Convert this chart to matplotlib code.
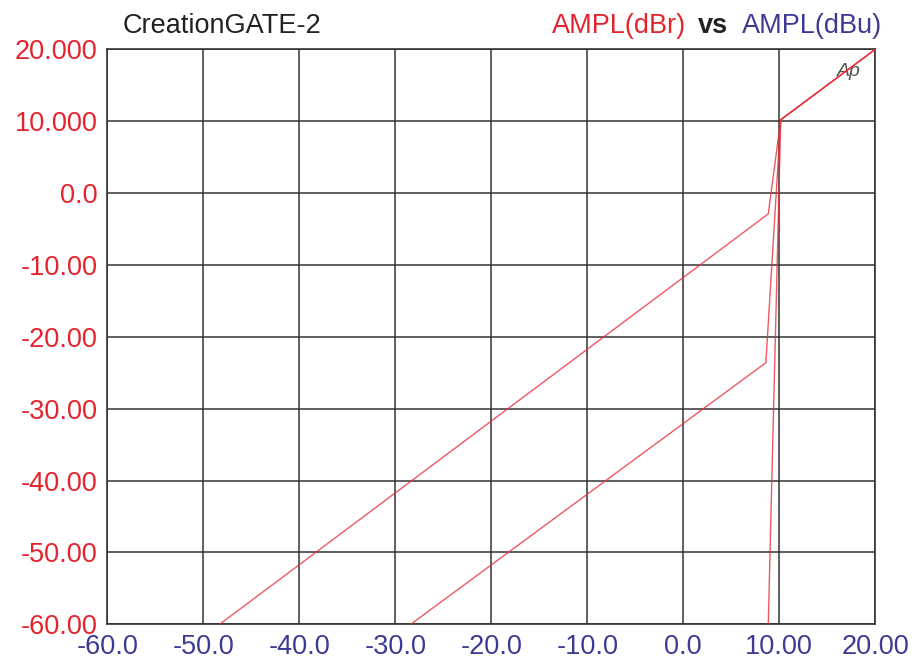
import matplotlib
matplotlib.use("Agg")
import matplotlib.pyplot as plt

plt.rcParams['font.family'] = ['Liberation Sans', 'DejaVu Sans']

# Data (dBu in -> dBr out)
xA = [-48.3, 8.85, 10.15, 20.0]
yA = [-60.0, -2.9, 10.2, 20.0]
xB = [-28.4, 8.6, 10.15, 20.0]
yB = [-60.0, -23.6, 10.2, 20.0]
xC = [8.85, 10.15, 20.0]
yC = [-60.0, 10.2, 20.0]

xticks = [-60, -50, -40, -30, -20, -10, 0, 10, 20]
xticklabels = ["-60.0", "-50.0", "-40.0", "-30.0", "-20.0", "-10.0", "0.0", "10.00", "20.00"]
yticks = [-60, -50, -40, -30, -20, -10, 0, 10, 20]
yticklabels = ["-60.00", "-50.00", "-40.00", "-30.00", "-20.00", "-10.00", "0.0", "10.000", "20.000"]

RED = '#e5232d'
NAVY = '#3c3a94'
LINE = '#e8303a'
GRID = '#333333'

fig = plt.figure(figsize=(9.16, 6.68), dpi=100)
ax = fig.add_axes([107.3/916, (668-624.3)/668, (875.3-107.3)/916, (624.3-49.3)/668])

for xs, ys in [(xA, yA), (xB, yB), (xC, yC)]:
    ax.plot(xs, ys, color=LINE, lw=1.0, alpha=0.8, zorder=3, solid_joinstyle='miter')

ax.set_xlim(-60, 20)
ax.set_ylim(-60, 20)
ax.set_xticks(xticks)
ax.set_xticklabels(xticklabels)
ax.set_yticks(yticks)
ax.set_yticklabels(yticklabels)
ax.tick_params(axis='both', length=0, labelsize=19.5)
ax.tick_params(axis='x', colors=NAVY, pad=7)
ax.tick_params(axis='y', colors=RED, pad=7)
ax.grid(True, color=GRID, lw=1.1, zorder=1)
ax.set_axisbelow(True)
for s in ax.spines.values():
    s.set_color(GRID)
    s.set_linewidth(1.2)

ax.text(17.3, 16.9, "Ap", fontsize=14, color='#555555', style='italic',
        ha='center', va='center', zorder=2)

ybase = (668 - 33) / 668
fig.text(123/916, ybase, "CreationGATE-2", fontsize=19.5, color='#222222',
         ha='left', va='baseline')
t3 = fig.text(882/916, ybase, "AMPL(dBu)", fontsize=19.5, color=NAVY,
              ha='right', va='baseline')
t2 = ax.annotate("vs", xy=(0, 0), xycoords=t3, xytext=(-14, 0),
                 textcoords='offset pixels', ha='right', va='bottom',
                 fontsize=19.5, color='#222222', fontweight='bold',
                 annotation_clip=False)
t1 = ax.annotate("AMPL(dBr)", xy=(0, 0), xycoords=t2, xytext=(-12, 0),
                 textcoords='offset pixels', ha='right', va='bottom',
                 fontsize=19.5, color=RED, annotation_clip=False)

fig.savefig("out.png", dpi=100)
